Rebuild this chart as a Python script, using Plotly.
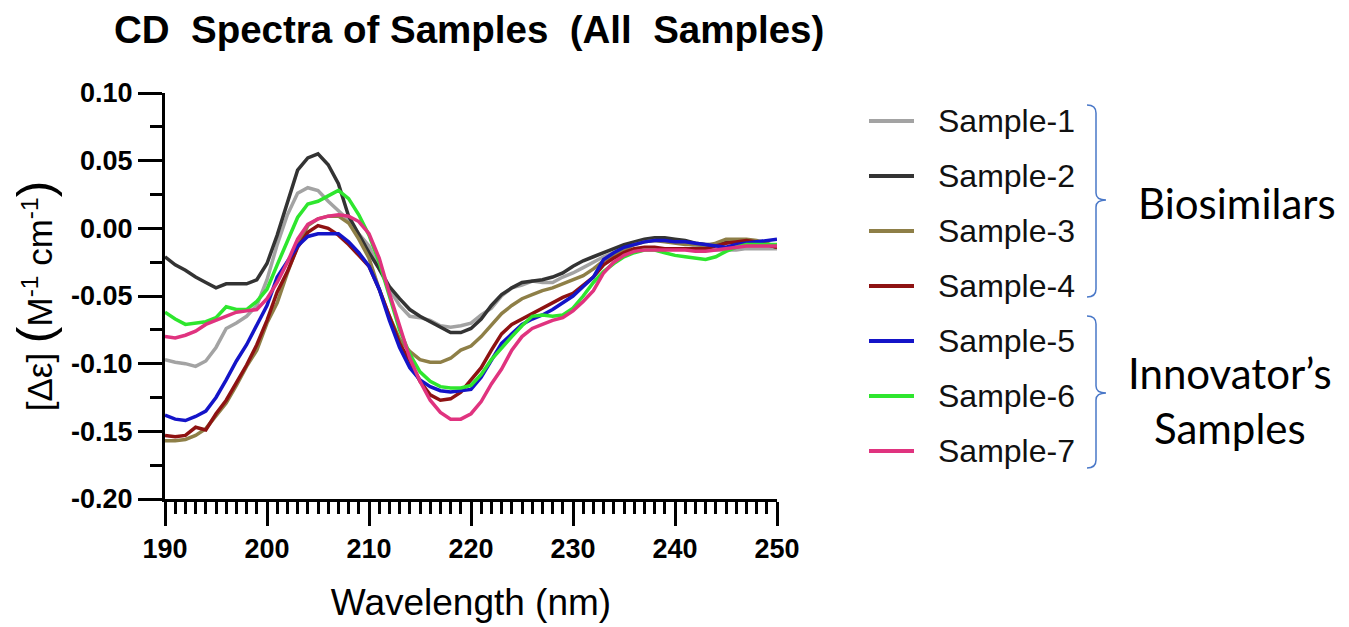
import plotly.graph_objects as go

wavelength = list(range(190, 251))

sample_1 = [-0.097, -0.099, -0.100, -0.102, -0.098, -0.088, -0.074, -0.070, -0.065, -0.057,
            -0.038, -0.012, 0.010, 0.026, 0.030, 0.028, 0.020, 0.013, 0.006, -0.004,
            -0.013, -0.030, -0.045, -0.057, -0.065, -0.066, -0.068, -0.072, -0.073, -0.072,
            -0.070, -0.064, -0.059, -0.050, -0.044, -0.042, -0.039, -0.040, -0.040, -0.036,
            -0.033, -0.029, -0.025, -0.021, -0.018, -0.014, -0.011, -0.009, -0.008, -0.009,
            -0.010, -0.011, -0.013, -0.015, -0.016, -0.016, -0.016, -0.015, -0.015, -0.015,
            -0.015]
sample_2 = [-0.021, -0.027, -0.031, -0.036, -0.040, -0.044, -0.041, -0.041, -0.041, -0.038,
            -0.026, -0.005, 0.018, 0.043, 0.052, 0.055, 0.047, 0.033, 0.009, -0.005,
            -0.018, -0.030, -0.043, -0.052, -0.060, -0.065, -0.069, -0.073, -0.077, -0.077,
            -0.074, -0.067, -0.057, -0.049, -0.044, -0.040, -0.039, -0.038, -0.036, -0.033,
            -0.028, -0.024, -0.021, -0.018, -0.015, -0.012, -0.010, -0.008, -0.007, -0.007,
            -0.008, -0.009, -0.011, -0.012, -0.012, -0.010, -0.010, -0.010, -0.011, -0.012,
            -0.014]
sample_3 = [-0.157, -0.157, -0.156, -0.153, -0.148, -0.139, -0.129, -0.116, -0.102, -0.090,
            -0.070, -0.055, -0.033, -0.013, 0.002, 0.007, 0.009, 0.009, 0.004, -0.008,
            -0.022, -0.045, -0.065, -0.082, -0.091, -0.097, -0.099, -0.099, -0.096, -0.090,
            -0.087, -0.080, -0.071, -0.063, -0.057, -0.052, -0.049, -0.046, -0.044, -0.041,
            -0.038, -0.035, -0.030, -0.024, -0.020, -0.016, -0.012, -0.010, -0.009, -0.010,
            -0.011, -0.012, -0.012, -0.013, -0.011, -0.008, -0.008, -0.008, -0.009, -0.011,
            -0.014]
sample_4 = [-0.153, -0.154, -0.153, -0.147, -0.149, -0.137, -0.127, -0.114, -0.101, -0.086,
            -0.068, -0.047, -0.032, -0.014, -0.003, 0.002, 0.000, -0.005, -0.012, -0.020,
            -0.028, -0.045, -0.065, -0.085, -0.098, -0.113, -0.123, -0.127, -0.126, -0.121,
            -0.112, -0.103, -0.090, -0.078, -0.071, -0.067, -0.063, -0.059, -0.055, -0.051,
            -0.048, -0.042, -0.036, -0.027, -0.022, -0.018, -0.015, -0.014, -0.014, -0.015,
            -0.015, -0.015, -0.015, -0.015, -0.013, -0.011, -0.010, -0.009, -0.010, -0.012,
            -0.014]
sample_5 = [-0.138, -0.141, -0.142, -0.139, -0.135, -0.125, -0.112, -0.098, -0.086, -0.072,
            -0.057, -0.036, -0.024, -0.013, -0.006, -0.004, -0.004, -0.004, -0.010, -0.018,
            -0.028, -0.045, -0.068, -0.088, -0.103, -0.112, -0.117, -0.120, -0.121, -0.120,
            -0.119, -0.110, -0.097, -0.085, -0.078, -0.071, -0.067, -0.064, -0.060, -0.055,
            -0.050, -0.043, -0.036, -0.023, -0.018, -0.014, -0.012, -0.010, -0.009, -0.009,
            -0.010, -0.010, -0.011, -0.012, -0.013, -0.014, -0.012, -0.011, -0.010, -0.009,
            -0.008]
sample_6 = [-0.062, -0.067, -0.071, -0.070, -0.069, -0.066, -0.058, -0.060, -0.060, -0.054,
            -0.045, -0.027, -0.010, 0.008, 0.018, 0.020, 0.024, 0.028, 0.022, 0.010,
            -0.005, -0.025, -0.050, -0.075, -0.093, -0.106, -0.113, -0.117, -0.118, -0.118,
            -0.116, -0.108, -0.097, -0.088, -0.080, -0.072, -0.065, -0.064, -0.065, -0.064,
            -0.059, -0.050, -0.040, -0.032, -0.026, -0.021, -0.018, -0.016, -0.016, -0.018,
            -0.020, -0.021, -0.022, -0.023, -0.021, -0.017, -0.014, -0.012, -0.012, -0.012,
            -0.012]
sample_7 = [-0.080, -0.081, -0.079, -0.076, -0.071, -0.068, -0.065, -0.062, -0.061, -0.060,
            -0.052, -0.040, -0.025, -0.008, 0.003, 0.007, 0.009, 0.010, 0.009, 0.005,
            -0.004, -0.022, -0.048, -0.073, -0.096, -0.113, -0.127, -0.136, -0.141, -0.141,
            -0.137, -0.128, -0.115, -0.104, -0.090, -0.080, -0.074, -0.071, -0.068, -0.066,
            -0.061, -0.054, -0.046, -0.033, -0.025, -0.020, -0.017, -0.016, -0.016, -0.016,
            -0.016, -0.016, -0.017, -0.017, -0.016, -0.015, -0.014, -0.013, -0.013, -0.013,
            -0.013]

series_names = ["Sample-1", "Sample-2", "Sample-3", "Sample-4", "Sample-5", "Sample-6", "Sample-7"]
series_values = [sample_1, sample_2, sample_3, sample_4, sample_5, sample_6, sample_7]
series_colors = ["#a3a3a3", "#333333", "#8e7f47", "#8e1212", "#1414c8", "#2ee62e", "#e0337f"]

y_tick_vals = [0.10, 0.05, 0.00, -0.05, -0.10, -0.15, -0.20]
y_tick_text = ["0.10", "0.05", "0.00", "-0.05", "-0.10", "-0.15", "-0.20"]
x_tick_vals = [190, 200, 210, 220, 230, 240, 250]
x_tick_text = ["190", "200", "210", "220", "230", "240", "250"]

group_labels = ["Biosimilars", "Innovator’s<br>Samples"]

W, H = 1349, 627
L, R, T, B = 165, 572, 93, 128
PW, PH = W - L - R, H - T - B


def px(x):
    return (x - L) / PW


def py(y):
    return (H - B - y) / PH


fig = go.Figure()
for name, vals, col in zip(series_names, series_values, series_colors):
    fig.add_trace(go.Scatter(x=wavelength, y=vals, mode="lines", name=name,
                             line=dict(color=col, width=3.5), showlegend=False))

shapes = []
annotations = []
# manual legend
row_y = [121, 176, 231, 286, 341, 396, 451]
for name, col, yy in zip(series_names, series_colors, row_y):
    shapes.append(dict(type="line", xref="paper", yref="paper",
                       x0=px(869), x1=px(914), y0=py(yy), y1=py(yy),
                       line=dict(color=col, width=4)))
    annotations.append(dict(text=name, xref="paper", yref="paper", x=px(936), y=py(yy),
                            xanchor="left", yanchor="middle", showarrow=False,
                            font=dict(family="Liberation Sans, Arial", size=32, color="#111111")))


def bracket(top, mid, bot):
    xl, xv, xt = 1087, 1096, 1106
    pts = (f"M {px(xl)},{py(top)} Q {px(xv)},{py(top)} {px(xv)},{py(top+8)} "
           f"L {px(xv)},{py(mid-7)} Q {px(xv)},{py(mid)} {px(xt)},{py(mid)} "
           f"Q {px(xv)},{py(mid)} {px(xv)},{py(mid+7)} "
           f"L {px(xv)},{py(bot-8)} Q {px(xv)},{py(bot)} {px(xl)},{py(bot)}")
    return dict(type="path", xref="paper", yref="paper", path=pts,
                line=dict(color="#4a78c8", width=1.5))


shapes.append(bracket(105, 200, 297))
shapes.append(bracket(316, 393, 468))

annotations.append(dict(text=group_labels[0], xref="paper", yref="paper", x=px(1237), y=py(203),
                        xanchor="center", yanchor="middle", showarrow=False,
                        font=dict(family="Lato", size=42, color="#000000")))
annotations.append(dict(text=group_labels[1], xref="paper", yref="paper", x=px(1230), y=py(400),
                        xanchor="center", yanchor="middle", showarrow=False,
                        font=dict(family="Lato", size=42, color="#000000")))

axis_font = dict(family="Liberation Sans, Arial", size=27, color="#000000", weight="bold")

fig.update_layout(
    width=W, height=H,
    margin=dict(l=L, r=R, t=T, b=B),
    paper_bgcolor="white", plot_bgcolor="white",
    title=dict(text="CD\u00a0\u00a0Spectra of Samples\u00a0\u00a0(All\u00a0\u00a0Samples)",
               x=114 / W, xanchor="left", y=1 - 30 / H, yanchor="middle",
               font=dict(family="Liberation Sans, Arial", size=38.5, color="#000000", weight="bold")),
    xaxis=dict(range=[190, 250], tickvals=x_tick_vals, ticktext=x_tick_text,
               showline=True, linecolor="black", linewidth=3, mirror=False,
               ticks="outside", ticklen=24, tickwidth=3, tickcolor="black",
               minor=dict(dtick=1, ticks="outside", ticklen=12, tickwidth=2.5, tickcolor="black", showgrid=False),
               showgrid=False, zeroline=False, tickfont=axis_font,
               title=dict(text="Wavelength (nm)", standoff=26,
                          font=dict(family="Liberation Sans, Arial", size=37, color="#000000"))),
    yaxis=dict(range=[-0.20, 0.10], tickvals=y_tick_vals, ticktext=y_tick_text,
               showline=True, linecolor="black", linewidth=3,
               ticks="outside", ticklen=24, tickwidth=3, tickcolor="black",
               minor=dict(dtick=0.025, ticks="outside", ticklen=12, tickwidth=3, tickcolor="black", showgrid=False),
               showgrid=False, zeroline=False, tickfont=axis_font,
               title=dict(text="[Δε] <span style='font-size:50px'>(</span>M<sup>-1</sup> cm<sup>-1</sup><span style='font-size:50px'>)</span>",
                          standoff=8,
                          font=dict(family="Liberation Sans, Arial", size=35, color="#000000"))),
    shapes=shapes,
    annotations=annotations,
)

fig.write_html("out.html")
